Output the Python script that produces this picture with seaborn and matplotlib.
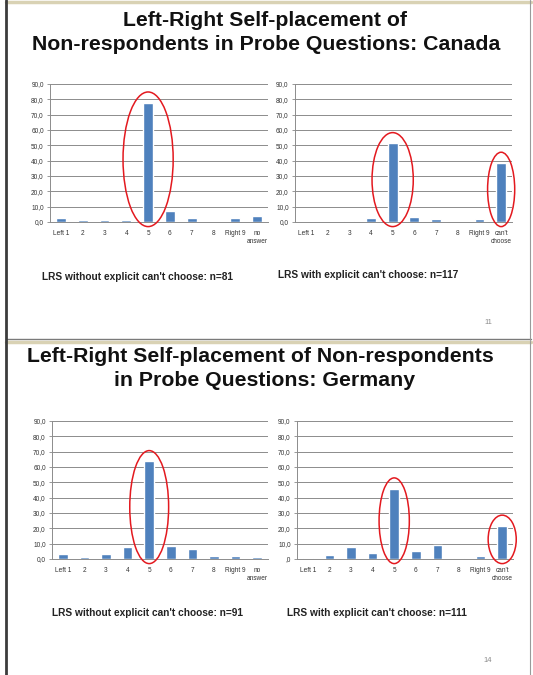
import matplotlib
matplotlib.use("Agg")
import matplotlib.pyplot as plt
import seaborn as sns
from matplotlib.patches import Ellipse
from matplotlib.lines import Line2D

sns.set_style("white")
plt.rcParams['font.family'] = ['Liberation Sans', 'DejaVu Sans']

# data (percent of non-respondents)
scale = ["Left 1", "2", "3", "4", "5", "6", "7", "8", "Right 9"]
cats_no_answer = scale + ["no\nanswer"]
cats_cant_choose = scale + ["can't\nchoose"]

canada_without = [2.5, 1.2, 1.2, 1.2, 77.8, 7.4, 2.5, 0.0, 2.5, 3.7]
canada_with = [0.0, 0.0, 0.9, 2.6, 51.3, 3.4, 1.7, 0.0, 1.7, 38.5]
germany_without = [3.3, 1.1, 3.3, 7.7, 63.7, 8.8, 6.6, 2.2, 2.2, 1.1]
germany_with = [0.9, 2.7, 8.1, 3.6, 45.9, 5.4, 9.0, 0.9, 1.8, 21.6]

ytick_vals = [0, 10, 20, 30, 40, 50, 60, 70, 80, 90]
ytick_text = ["0,0", "10,0", "20,0", "30,0", "40,0", "50,0", "60,0", "70,0", "80,0", "90,0"]

W, H = 533, 675
fig = plt.figure(figsize=(W / 100, H / 100), dpi=100)
fig.patch.set_facecolor("white")


def px(x0, y0, x1, y1):
    # pixel box -> figure fraction [left, bottom, width, height]
    return [x0 / W, 1 - y1 / H, (x1 - x0) / W, (y1 - y0) / H]


def hline(y, x0, x1, color, lw):
    fig.add_artist(Line2D([x0 / W, x1 / W], [1 - y / H, 1 - y / H], color=color, lw=lw,
                          transform=fig.transFigure))


def vline(x, y0, y1, color, lw):
    fig.add_artist(Line2D([x / W, x / W], [1 - y0 / H, 1 - y1 / H], color=color, lw=lw,
                          transform=fig.transFigure))


def bar_chart(box, cats, vals, highlights, zero_label="0,0"):
    ax = fig.add_axes(px(*box))
    sns.barplot(x=list(range(len(cats))), y=vals, color="#4F81BD", width=0.45,
                saturation=1, ax=ax, zorder=3)
    ax.set_xlim(-0.5, len(cats) - 0.5)
    ax.set_ylim(0, 90)
    ax.set_yticks(ytick_vals)
    labels = list(ytick_text)
    labels[0] = zero_label
    ax.set_yticklabels(labels)
    ax.set_xticks(range(len(cats)))
    ax.set_xticklabels(cats, linespacing=1.2)
    ax.set_xticks([i + 0.5 for i in range(-1, len(cats))], minor=True)
    ax.tick_params(axis="x", which="major", length=0, pad=5.5, labelsize=4.7, colors="#333333")
    ax.tick_params(axis="x", which="minor", length=2.5, width=0.6, color="#888888")
    ax.tick_params(axis="y", length=2.5, width=0.6, color="#888888", pad=2,
                   labelsize=4.7, labelcolor="#333333", left=True)
    ax.yaxis.grid(True, color="#8C8C8C", lw=0.7, zorder=0)
    ax.set_axisbelow(True)
    for s in ["top", "right"]:
        ax.spines[s].set_visible(False)
    for s in ["left", "bottom"]:
        ax.spines[s].set_color("#8C8C8C")
        ax.spines[s].set_linewidth(0.7)
    ax.set_xlabel("")
    ax.set_ylabel("")
    for idx, w in highlights:
        top = vals[idx] + 7
        bottom = -3
        ax.add_patch(Ellipse((idx, (top + bottom) / 2), w, top - bottom, fill=False,
                             edgecolor="#E3191F", lw=1.1, zorder=5, clip_on=False))
    return ax


# slide frames
hline(2, 6, 531, "#D9D2B4", 2.5)
hline(339, 6, 531, "#7A7A7A", 1.0)
hline(342, 6, 531, "#D9D2B4", 2.5)
vline(6, 0, 675, "#3C3C3C", 2.0)
vline(530, 0, 340, "#9A9A9A", 0.8)
vline(530, 341, 675, "#9A9A9A", 0.8)

title_kw = dict(ha="center", va="center", fontsize=15.3, fontweight="bold", color="#111111")
sub_kw = dict(ha="left", va="center", fontsize=7.3, fontweight="bold", color="#222222")

# Canada slide
fig.text(265 / W, 1 - 20 / H, "Left-Right Self-placement of", **title_kw)
fig.text(266 / W, 1 - 45 / H, "Non-respondents in Probe Questions: Canada", **title_kw)
bar_chart((50, 84, 268, 222), cats_no_answer, canada_without, [(4, 2.3)])
bar_chart((295, 84, 512, 222), cats_cant_choose, canada_with, [(4, 1.9), (9, 1.25)])
fig.text(42 / W, 1 - 277 / H, "LRS without explicit can't choose: n=81", **sub_kw)
fig.text(278 / W, 1 - 275 / H, "LRS with explicit can't choose: n=117", **sub_kw)
fig.text(488 / W, 1 - 322 / H, "11", ha="center", va="center", fontsize=5.5, color="#8A8A8A")

# Germany slide
fig.text(260 / W, 1 - 357 / H, "Left-Right Self-placement of Non-respondents", **title_kw)
fig.text(265 / W, 1 - 381 / H, "in Probe Questions: Germany", **title_kw)
bar_chart((52, 421, 268, 559), cats_no_answer, germany_without, [(4, 1.8)])
bar_chart((297, 421, 513, 559), cats_cant_choose, germany_with, [(4, 1.4), (9, 1.3)],
          zero_label=",0")
fig.text(52 / W, 1 - 613 / H, "LRS without explicit can't choose: n=91", **sub_kw)
fig.text(287 / W, 1 - 613 / H, "LRS with explicit can't choose: n=111", **sub_kw)
fig.text(488 / W, 1 - 660 / H, "14", ha="center", va="center", fontsize=5.5, color="#8A8A8A")

fig.savefig("out.png", dpi=100, facecolor="white")
